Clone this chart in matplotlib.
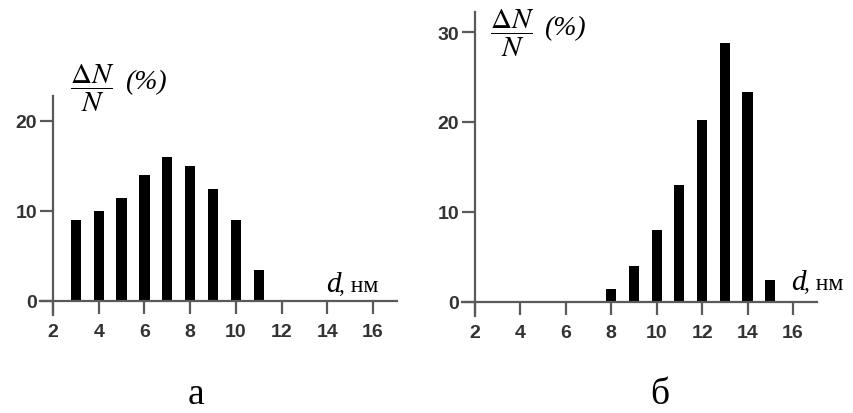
"""Distribution of particle sizes: two histograms (a, б) side by side."""

import matplotlib

matplotlib.use("Agg")
import matplotlib.pyplot as plt

plt.rcParams["mathtext.fontset"] = "stix"

# panel a
sizes_a = [3, 4, 5, 6, 7, 8, 9, 10, 11]
share_a = [9, 10, 11.5, 14, 16, 15, 12.5, 9, 3.5]
yticks_a = [0, 10, 20]

# panel б
sizes_b = [8, 9, 10, 11, 12, 13, 14, 15]
share_b = [1.5, 4, 8, 13, 20.2, 28.8, 23.3, 2.5]
yticks_b = [0, 10, 20, 30]

xticks = [2, 4, 6, 8, 10, 12, 14, 16]

W, H = 854, 414
AXIS_COLOR = "#5a5a5a"
TICK_FONT = {"family": "Liberation Sans", "weight": "bold", "size": 14}

fig = plt.figure(figsize=(W / 100, H / 100), dpi=100)


def make_axes(x2_px, xscale, y0_px, yscale, xlim, ylim):
    """Place an axes so that x=2 and y=0 fall on the given pixels."""
    left = x2_px + (xlim[0] - 2) * xscale
    width = (xlim[1] - xlim[0]) * xscale
    bottom = H - (y0_px - ylim[0] * yscale)
    height = (ylim[1] - ylim[0]) * yscale
    ax = fig.add_axes([left / W, bottom / H, width / W, height / H])
    ax.set_xlim(*xlim)
    ax.set_ylim(*ylim)
    ax.patch.set_visible(False)
    return ax


def style(ax, yticks, ytop):
    for side in ("top", "right"):
        ax.spines[side].set_visible(False)
    ax.spines["left"].set_position(("data", 2))
    ax.spines["bottom"].set_position(("data", 0))
    ax.spines["left"].set_bounds(-1.6, ytop)
    ax.spines["bottom"].set_bounds(1.43, 17.05)
    for side in ("left", "bottom"):
        ax.spines[side].set_color(AXIS_COLOR)
        ax.spines[side].set_linewidth(1.6)
    ax.set_xticks(xticks)
    ax.set_yticks(yticks)
    ax.tick_params(direction="out", length=9.5, width=1.6, color=AXIS_COLOR,
                   labelcolor="#333333")
    ax.tick_params(axis="x", pad=6)
    ax.tick_params(axis="y", pad=2)
    for lab in ax.get_xticklabels() + ax.get_yticklabels():
        lab.set_fontproperties(TICK_FONT)


def ftext(x, y, s, **kw):
    fig.text(x / W, 1 - y / H, s, **kw)


ax_a = make_axes(53, 22.86, 302, 9.0, (1.0, 17.5), (-3, 24))
ax_a.bar(sizes_a, share_a, width=0.45, color="black")
style(ax_a, yticks_a, 22.8)

ax_b = make_axes(475, 22.71, 303, 9.0, (1.0, 17.5), (-3, 33))
ax_b.bar(sizes_b, share_b, width=0.45, color="black")
style(ax_b, yticks_b, 32.2)

serif = "Liberation Serif"

# y labels
ftext(92, 88, r"$\dfrac{\Delta N}{N}$", fontsize=21, ha="center", va="center")
ftext(125, 83, "(%)", family=serif, style="italic", fontsize=20, va="center")
ftext(512, 33, r"$\dfrac{\Delta N}{N}$", fontsize=21, ha="center", va="center")
ftext(544, 29, "(%)", family=serif, style="italic", fontsize=20, va="center")

# x labels
ftext(326, 292, "d", family=serif, style="italic", fontsize=21, va="baseline")
ftext(339, 292, ", нм", family=serif, fontsize=17, va="baseline")
ftext(791, 290, "d", family=serif, style="italic", fontsize=21, va="baseline")
ftext(804, 290, ", нм", family=serif, fontsize=17, va="baseline")

# panel letters
ftext(196, 404, "а", family=serif, fontsize=27, ha="center", va="baseline")
ftext(660, 404, "б", family=serif, fontsize=27, ha="center", va="baseline")

fig.savefig("out.png", dpi=100)
